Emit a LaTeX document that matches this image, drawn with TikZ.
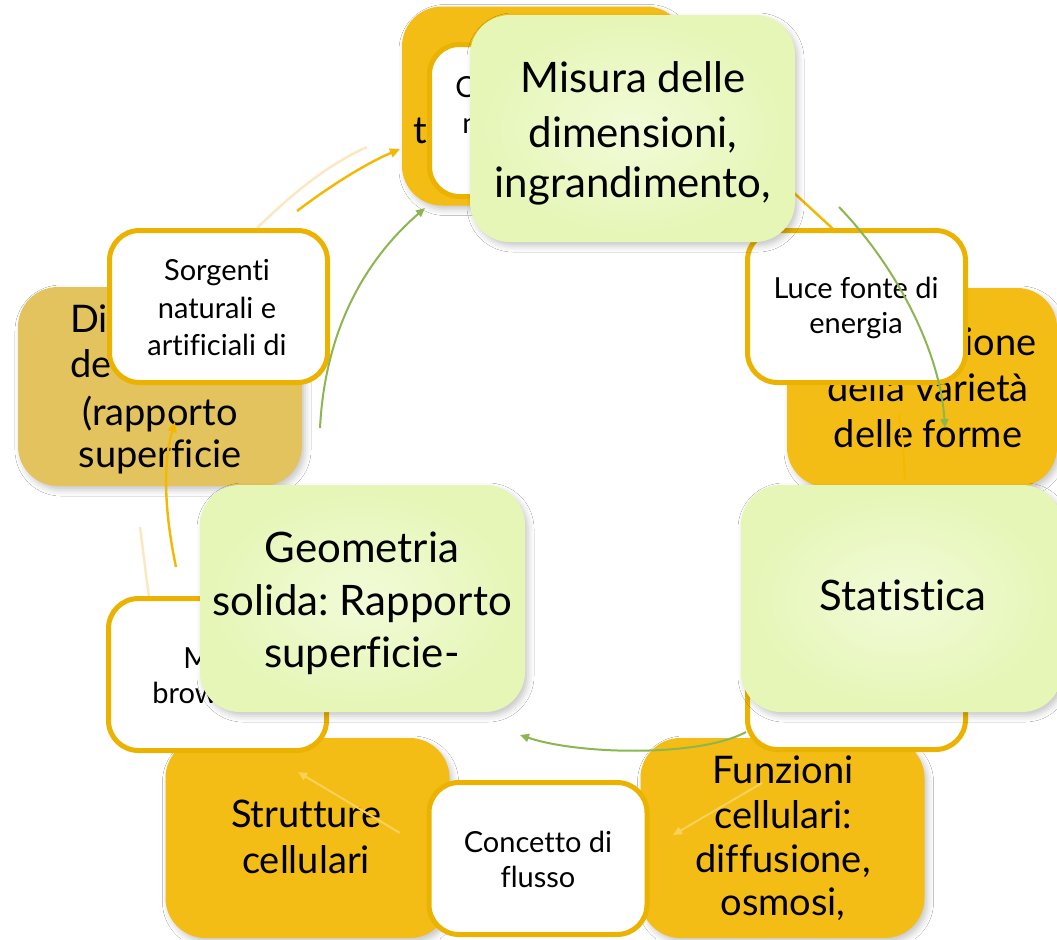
\documentclass[tikz,border=0pt]{standalone}
\usepackage{fontspec}
\setmainfont{Lato}[Ligatures={NoCommon,NoRare,NoDiscretionary}]
\usetikzlibrary{arrows.meta,shadows,shadows.blur}
\definecolor{gold}{HTML}{F3BD15}
\definecolor{goldline}{HTML}{EBB300}
\definecolor{mustard}{HTML}{E3C35E}
\definecolor{lgreenin}{HTML}{F2FBD8}
\definecolor{lgreenout}{HTML}{E5F6B6}
\definecolor{arrgreen}{HTML}{8DB650}
\definecolor{arrorange}{HTML}{F5B800}
\definecolor{paleor}{HTML}{FCE7C0}
\definecolor{softor}{HTML}{F9D25A}
\frenchspacing
\tikzset{
  shadowed/.style={blur shadow={shadow xshift=1.5pt, shadow yshift=-2pt, shadow blur radius=3pt, shadow opacity=22}},
  obox/.style={rounded corners=20pt, fill=gold, draw=none, minimum width=142pt, minimum height=99.5pt, inner sep=0pt, shadowed},
  mbox/.style={obox, fill=mustard},
  wbox/.style={rounded corners=15pt, fill=white, draw=goldline, line width=2.5pt, minimum width=109pt, minimum height=76pt, inner sep=0pt},
  gbox/.style={rounded corners=20pt, shading=radial, inner color=lgreenin, outer color=lgreenout, draw=none, minimum width=162.5pt, minimum height=113.5pt, inner sep=0pt, shadowed},
  gtxt/.style={font=\fontsize{21}{25}\selectfont, inner sep=0pt, anchor=base},
  otxt/.style={font=\fontsize{19}{23}\selectfont, inner sep=0pt, anchor=base},
  wtxt/.style={font=\fontsize{14.5}{17}\selectfont, inner sep=0pt, anchor=base},
  garrow/.style={draw=arrgreen, line width=1pt, -{Triangle[length=4.5pt,width=4pt]}},
  oarrow/.style={draw=arrorange, line width=1.2pt, -{Triangle[length=5pt,width=4.5pt]}},
  sarrow/.style={draw=softor, line width=1pt, -{Triangle[length=4.5pt,width=4pt]}},
  paleline/.style={draw=paleor, line width=1.2pt},
}
\begin{document}
\begin{tikzpicture}[x=0.5pt,y=-0.5pt]
\useasboundingbox (0,0) rectangle (1057,939);
\clip (0,0) rectangle (1057,939);
\fill[white] (0,0) rectangle (1057,939);

% pale ghost lines
\coordinate (p1s) at (257,228); \coordinate (p1e) at (367,147);
\draw[paleline] (p1s) .. controls (290,196) and (325,166) .. (p1e);
\coordinate (p2s) at (140,527); \coordinate (p2e) at (149,597);
\draw[paleline] (p2s) .. controls (143,550) and (146,575) .. (p2e);

% orange boxes
\node[obox] (tor) at (544,106) {};
\node[obox, minimum width=135pt] (ror) at (922,387.5) {};
\node[mbox] (dib) at (160,386.5) {};
\node[obox, minimum height=100pt] (str) at (307.5,838) {};
\node[obox, minimum height=100pt] (fun) at (782.5,838) {};

% orange box texts
\node[otxt, anchor=base west] (tor1) at (413,143) {t};
\node[otxt, anchor=base east] (ror1) at (1037,355) {ione};
\node[otxt] (ror2) at (928,401) {della varietà};
\node[otxt] (ror3) at (928,447) {delle forme};
\node[otxt, anchor=base west] (dib1) at (70,332) {Di};
\node[otxt, anchor=base west] (dib2) at (70,377) {de};
\node[otxt] (dib3) at (160,425) {(rapporto};
\node[otxt] (dib4) at (160,467) {superficie};
\node[otxt] (str1) at (306,827) {Strutture};
\node[otxt] (str2) at (306,873) {cellulari};
\node[otxt] (fun1) at (783,783) {Funzioni};
\node[otxt] (fun2) at (783,828) {cellulari:};
\node[otxt] (fun3) at (783,872) {diffusione,};
\node[otxt] (fun4) at (783,915) {osmosi,};

% orange connectors (mostly hidden behind boxes)
\coordinate (o1s) at (297,211); \coordinate (o1e) at (400,149);
\draw[oarrow] (o1s) .. controls (330,186) and (365,164) .. (o1e);
\coordinate (o2s) at (780,180); \coordinate (o2e) at (845,240);
\draw[draw=arrorange, line width=1.2pt] (o2s) -- (o2e);
\coordinate (o3s) at (176,567); \coordinate (o3e) at (175,422);
\draw[oarrow] (o3s) .. controls (164,510) and (163,462) .. (o3e);
\coordinate (o4s) at (899,415); \coordinate (o4e) at (905,480);
\draw[draw=arrorange, line width=1pt] (o4s) .. controls (903,440) and (904,460) .. (o4e);
\coordinate (o5s) at (400,833); \coordinate (o5e) at (298,772);
\draw[sarrow] (o5s) -- (o5e);
\coordinate (o6s) at (762,783); \coordinate (o6e) at (673,835);
\draw[sarrow] (o6s) -- (o6e);

% white boxes
\node[wbox] (twh) at (538.5,120.5) {};
\node[wtxt, anchor=base west] (twh1) at (455,97) {C};
\node[wtxt, anchor=base west] (twh2) at (462,133) {n};
\node[wbox] (luce) at (856.5,306.5) {};
\node[wtxt] (luce1) at (856,298) {Luce fonte di};
\node[wtxt] (luce2) at (856,333) {energia};
\node[wbox] (sor) at (218.5,306.5) {};
\node[wtxt] (sor1) at (217,280) {Sorgenti};
\node[wtxt] (sor2) at (217,318) {naturali e};
\node[wtxt] (sor3) at (217,355) {artificiali di};
\node[wbox] (moto) at (217.5,674.5) {};
\node[wtxt, anchor=base west] (moto1) at (183,668) {M};
\node[wtxt, anchor=base west] (moto2) at (152,703) {brow};
\node[wbox] (stw) at (856.5,673.5) {};
\node[wbox] (con) at (538,858.5) {};
\node[wtxt] (con1) at (538,852) {Concetto di};
\node[wtxt] (con2) at (538,887) {flusso};

% green boxes
\node[gbox] (mis) at (632.5,128.5) {};
\node[gtxt] (mis1) at (633,92) {Misura delle};
\node[gtxt] (mis2) at (633,147) {dimensioni,};
\node[gtxt] (mis3) at (633,197) {ingrandimento,};
\node[gbox, minimum width=160.5pt] (stat) at (901.5,598.5) {};
\node[gtxt] (stat1) at (903,610) {Statistica};
\node[gbox] (geo) at (362.5,598.5) {};
\node[gtxt] (geo1) at (362,562) {Geometria};
\node[gtxt] (geo2) at (362,615) {solida: Rapporto};
\node[gtxt] (geo3) at (362,667) {superficie-};

% green connectors
\coordinate (g1s) at (320,428); \coordinate (g1e) at (425,208);
\draw[garrow] (g1s) .. controls (325,330) and (365,260) .. (g1e);
\coordinate (g2s) at (839,207); \coordinate (g2e) at (945,428);
\draw[garrow] (g2s) .. controls (895,265) and (940,350) .. (g2e);
\coordinate (g3s) at (746,732); \coordinate (g3e) at (520,735);
\draw[garrow] (g3s) .. controls (700,757) and (580,755) .. (g3e);
\end{tikzpicture}
\end{document}
